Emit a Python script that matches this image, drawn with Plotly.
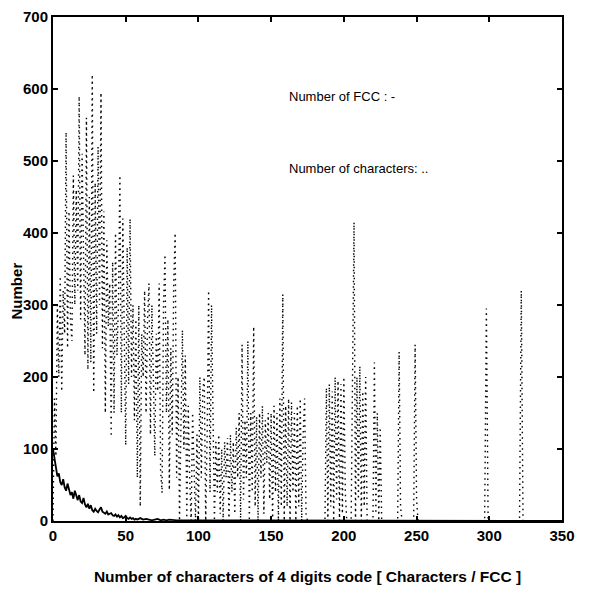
import plotly.graph_objects as go

# Dotted series: number of characters (x = characters per FCC, y = count)
chars_x = [0, 1, 2, 3, 4, 5, 6, 7, 8, 9, 10, 11, 12, 13, 14, 15, 16, 17, 18, 19,
           20, 21, 22, 23, 24, 25, 26, 27, 28, 29, 30, 31, 32, 33, 34, 35, 36, 37, 38, 39,
           40, 41, 42, 43, 44, 45, 46, 47, 48, 49, 50, 51, 52, 53, 54, 55, 56, 57, 58, 59,
           60, 61, 62, 63, 64, 65, 66, 67, 68, 69, 70, 71, 72, 73, 74, 75, 76, 77, 78, 79,
           80, 81, 82, 83, 84, 85, 86, 87, 88, 89, 90, 91, 92, 93, 94, 95, 96, 97, 98, 99,
           100, 101, 102, 103, 104, 105, 106, 107, 108, 109, 110, 111, 112, 113, 114, 115, 116, 117, 118, 119,
           120, 121, 122, 123, 124, 125, 126, 127, 128, 129, 130, 131, 132, 133, 134, 135, 136, 137, 138, 139,
           140, 141, 142, 143, 144, 145, 146, 147, 148, 149, 150, 151, 152, 153, 154, 155, 156, 157, 158, 159,
           160, 161, 162, 163, 164, 165, 166, 167, 168, 169, 170, 171, 172, 173, 174, 175,
           187, 188, 189, 190, 191, 192, 193, 194, 195, 196, 197, 198, 199, 200, 201, 202,
           205, 206, 207, 208, 209, 210, 211, 212, 213, 214, 215, 216,
           220, 221, 222, 223, 224, 225, 226,
           237, 238, 239, 240, 248, 249, 250, 251,
           296.8, 298, 299.2, 320.8, 322, 323.2]
chars_y = [0, 170, 90, 300, 200, 340, 180, 320, 260, 540, 240, 430, 280, 250, 480, 300, 460, 320, 590, 280,
           510, 350, 230, 560, 210, 450, 220, 620, 178, 470, 260, 520, 300, 595, 240, 430, 150, 390, 270, 330,
           117, 360, 150, 400, 230, 300, 480, 150, 420, 260, 105, 380, 190, 420, 200, 300, 140, 280, 60, 300,
           20, 260, 200, 320, 150, 280, 330, 120, 300, 200, 90, 260, 180, 330, 70, 39, 300, 370, 150, 280,
           43, 240, 120, 330, 400, 60, 200, 0, 150, 265, 100, 230, 0, 160, 60, 0, 150, 60, 0, 120,
           0, 200, 60, 180, 200, 0, 120, 320, 40, 300, 100, 0, 110, 40, 120, 10, 100, 0, 110, 60,
           115, 0, 120, 40, 110, 10, 130, 60, 150, 0, 245, 30, 140, 60, 250, 0, 150, 40, 270, 20,
           145, 0, 150, 60, 160, 10, 140, 80, 150, 30, 150, 0, 160, 40, 150, 0, 170, 20, 315, 0,
           160, 20, 170, 0, 165, 40, 150, 0, 160, 20, 170, 0, 120, 170, 10, 0,
           0, 185, 0, 190, 20, 180, 0, 200, 30, 195, 0, 190, 10, 200, 40, 0,
           0, 190, 415, 0, 200, 30, 215, 0, 180, 20, 200, 0,
           0, 220, 10, 150, 0, 130, 0,
           0, 235, 20, 0, 0, 245, 30, 0,
           0, 295, 0, 0, 320, 0]

# Solid series: number of FCC
fcc_x = [0, 1, 2, 3, 4, 5, 6, 7, 8, 9, 10, 11, 12, 13, 14, 15, 16, 17, 18, 19,
         20, 21, 22, 23, 24, 25, 26, 27, 28, 29, 30, 31, 32, 33, 34, 35, 36, 37, 38, 39,
         40, 41, 42, 43, 44, 45, 46, 47, 48, 49, 50, 51, 52, 53, 54, 55, 56, 57, 58, 59,
         60, 62, 64, 66, 68, 70, 72, 74, 76, 78, 80, 85, 90, 95, 100, 110, 120, 130, 150,
         200, 250, 300, 350]
fcc_y = [100, 88, 72, 62, 66, 54, 50, 58, 47, 42, 52, 44, 36, 40, 31, 42, 34, 29, 36, 27,
         25, 32, 23, 19, 24, 17, 22, 15, 13, 17, 14, 12, 16, 19, 13, 11, 10, 13, 9, 10,
         11, 8, 7, 9, 6, 8, 5, 7, 4, 5, 7, 4, 3, 5, 3, 4, 2, 3, 2, 3,
         4, 2, 3, 2, 1, 2, 3, 1, 2, 1, 2, 1, 1, 0, 1, 0, 1, 0, 0,
         0, 0, 0, 0]

x_ticks = [0, 50, 100, 150, 200, 250, 300, 350]
y_ticks = [0, 100, 200, 300, 400, 500, 600, 700]

FONT = "Liberation Sans"

fig = go.Figure()
fig.add_trace(go.Scatter(x=chars_x, y=chars_y, mode="lines",
                         line=dict(color="black", width=1.4, dash="1.5px,4px"),
                         showlegend=False, hoverinfo="skip"))
fig.add_trace(go.Scatter(x=fcc_x, y=fcc_y, mode="lines",
                         line=dict(color="black", width=1.8),
                         showlegend=False, hoverinfo="skip"))

fig.add_annotation(x=161, y=589, xref="x", yref="y", text="Number of FCC : -",
                   showarrow=False, xanchor="left", yanchor="middle",
                   font=dict(family=FONT, size=13, color="black"))
fig.add_annotation(x=161, y=490, xref="x", yref="y", text="Number of characters: ..",
                   showarrow=False, xanchor="left", yanchor="middle",
                   font=dict(family=FONT, size=13, color="black"))
# y-axis title placed as rotated text (sits slightly below the axis centre in the original)
fig.add_annotation(x=-0.071, y=320, xref="paper", yref="y", xanchor="center", yanchor="middle",
                   text="Number", textangle=-90, showarrow=False,
                   font=dict(family=FONT, size=15, color="black", weight="bold"))

axis_common = dict(showgrid=False, zeroline=False, showline=True, linecolor="black",
                   linewidth=2, mirror="ticks", ticks="inside", ticklen=5,
                   tickwidth=1.5, tickcolor="black", automargin=False,
                   tickfont=dict(family=FONT, size=15, color="black", weight="bold"))

fig.update_xaxes(range=[0, 350], tickvals=x_ticks, ticktext=[str(v) for v in x_ticks],
                 title=dict(text="Number of characters of 4 digits code [ Characters / FCC ]",
                            font=dict(family=FONT, size=15.5, color="black", weight="bold"),
                            standoff=28),
                 **axis_common)
fig.update_yaxes(range=[0, 700], tickvals=y_ticks, ticktext=[str(v) for v in y_ticks],
                 **axis_common)

fig.update_layout(width=604, height=597, margin=dict(l=45, r=50, t=9, b=84),
                  paper_bgcolor="white", plot_bgcolor="white")

fig.write_html("out.html")
